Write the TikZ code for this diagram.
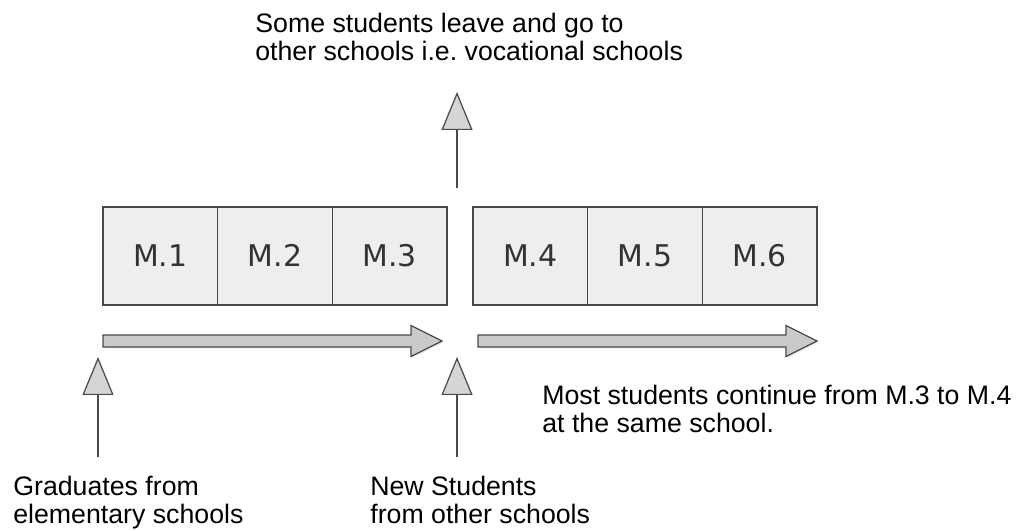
\documentclass[tikz,border=0pt]{standalone}
\usepackage{fontspec}
\setmainfont{Liberation Sans}
\newfontfamily\boxfont{DejaVu Sans}
\usetikzlibrary{positioning, arrows.meta, shadows}

\definecolor{boxfill}{HTML}{EEEEEE}
\definecolor{arrowfill}{HTML}{CACACA}
\definecolor{edge}{HTML}{4A4A4A}

\tikzset{
    grade/.style={rectangle, draw=edge, line width=0.7pt, fill=boxfill, outer sep=0pt,
        minimum width=2.293cm, minimum height=1.96cm, inner sep=0pt,
        text height=12.4pt, text depth=0pt,
        font=\boxfont\fontsize{17}{20}\selectfont, text=black!80,
        drop shadow={opacity=0.25, shadow xshift=0.8pt, shadow yshift=-0.8pt}},
    fatarrow/.style={draw=edge, line width=0.7pt, fill=arrowfill,
        drop shadow={opacity=0.2, shadow xshift=0.8pt, shadow yshift=-0.8pt}},
    flow/.style={draw=edge, line width=0.7pt,
        -{Triangle[length=0.76cm, width=0.62cm, fill=arrowfill!80]}},
    note/.style={anchor=north west, align=left, inner sep=0pt,
        font=\fontsize{15.2}{15.9}\selectfont}
}

\begin{document}
\begin{tikzpicture}

    \useasboundingbox (0,0) rectangle (20.54,10.62);

    % lower and upper secondary grades
    \node[grade] (m1) at (3.207,5.5) {M.1};
    \node[grade, right=0pt of m1] (m2) {M.2};
    \node[grade, right=0pt of m2] (m3) {M.3};
    \node[grade, right=0.52cm of m3] (m4) {M.4};
    \node[grade, right=0pt of m4] (m5) {M.5};
    \node[grade, right=0pt of m5] (m6) {M.6};

    % progress arrows under the grades
    \draw[fatarrow] (2.06,3.68) -- (8.22,3.68) -- (8.22,3.49) -- (8.84,3.80)
        -- (8.22,4.11) -- (8.22,3.92) -- (2.06,3.92) -- cycle;
    \draw[fatarrow] (9.56,3.68) -- (15.72,3.68) -- (15.72,3.49) -- (16.34,3.80)
        -- (15.72,4.11) -- (15.72,3.92) -- (9.56,3.92) -- cycle;

    % notes
    \node[note] (leave) at (5.10,10.37) {Some students leave and go to\\other schools i.e.\ vocational schools};
    \node[note] (grads) at (0.26,1.11) {Graduates from\\elementary schools};
    \node[note] (newcomers) at (7.40,1.11) {New Students\\from other schools};
    \node[note] (most) at (10.84,2.93) {Most students continue from M.3 to M.4\\at the same school.};

    % entry and exit flows
    \coordinate (gradfoot) at (1.96,1.48);
    \coordinate (gradtip) at (1.96,3.48);
    \coordinate (newfoot) at (9.14,1.48);
    \coordinate (newtip) at (9.14,3.48);
    \coordinate (leavefoot) at (9.14,6.86);
    \coordinate (leavetip) at (9.14,8.78);

    \draw[flow] (gradfoot) -- (gradtip);
    \draw[flow] (newfoot) -- (newtip);
    \draw[flow] (leavefoot) -- (leavetip);

\end{tikzpicture}
\end{document}
